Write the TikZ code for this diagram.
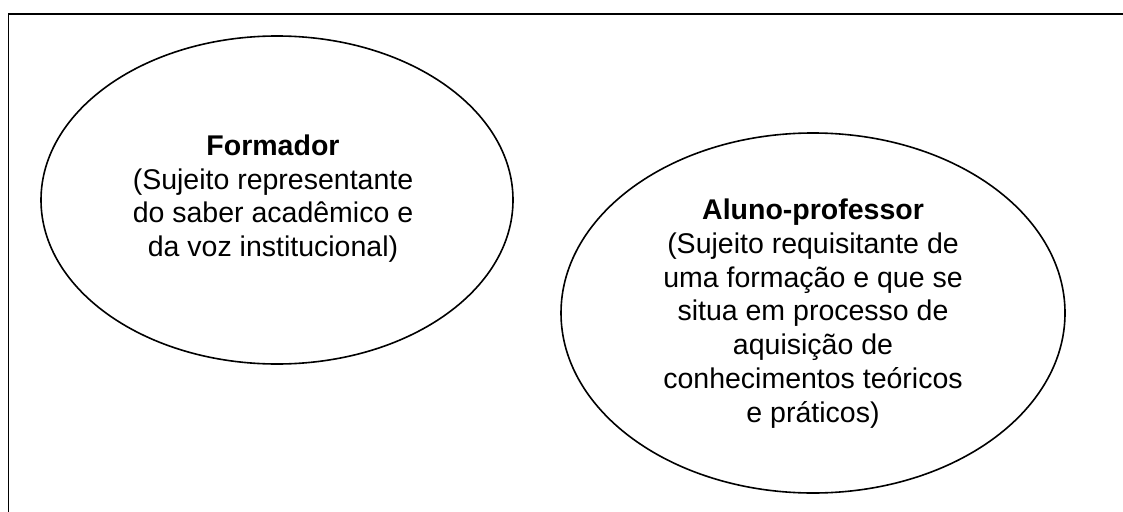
\documentclass[tikz,border=0pt]{standalone}
\usepackage{fontspec}
\setmainfont{Liberation Sans}
\usetikzlibrary{shapes.geometric}
\begin{document}
\begin{tikzpicture}[x=1pt,y=-1pt,
  bubble/.style={draw, ellipse, line width=1.6pt, inner sep=0pt},
  label/.style={align=center, inner sep=0pt, font=\fontsize{28.5}{33.7}\selectfont},
  frameline/.style={line width=1.8pt}]
\useasboundingbox (0,0) rectangle (1123,511);
\begin{scope}
\clip (0,0) rectangle (1123,511);
\coordinate (fbl) at (8.5,530);
\coordinate (ftl) at (8.5,14);
\coordinate (ftr) at (1140,14);
\draw[frameline] (fbl) -- (ftl) -- (ftr);
\end{scope}
\node[bubble, minimum width=472pt, minimum height=328pt] (formador) at (277,200) {};
\node[bubble, minimum width=504pt, minimum height=360pt] (aluno) at (813,313) {};
\node[label] (tformador) at (273,198.7) {\textbf{Formador}\\(Sujeito representante\\do saber acadêmico e\\da voz institucional)};
\node[label] (taluno) at (813,313.6) {\textbf{Aluno-professor}\\(Sujeito requisitante de\\uma formação e que se\\situa em processo de\\aquisição de\\conhecimentos teóricos\\e práticos)};
\end{tikzpicture}
\end{document}
